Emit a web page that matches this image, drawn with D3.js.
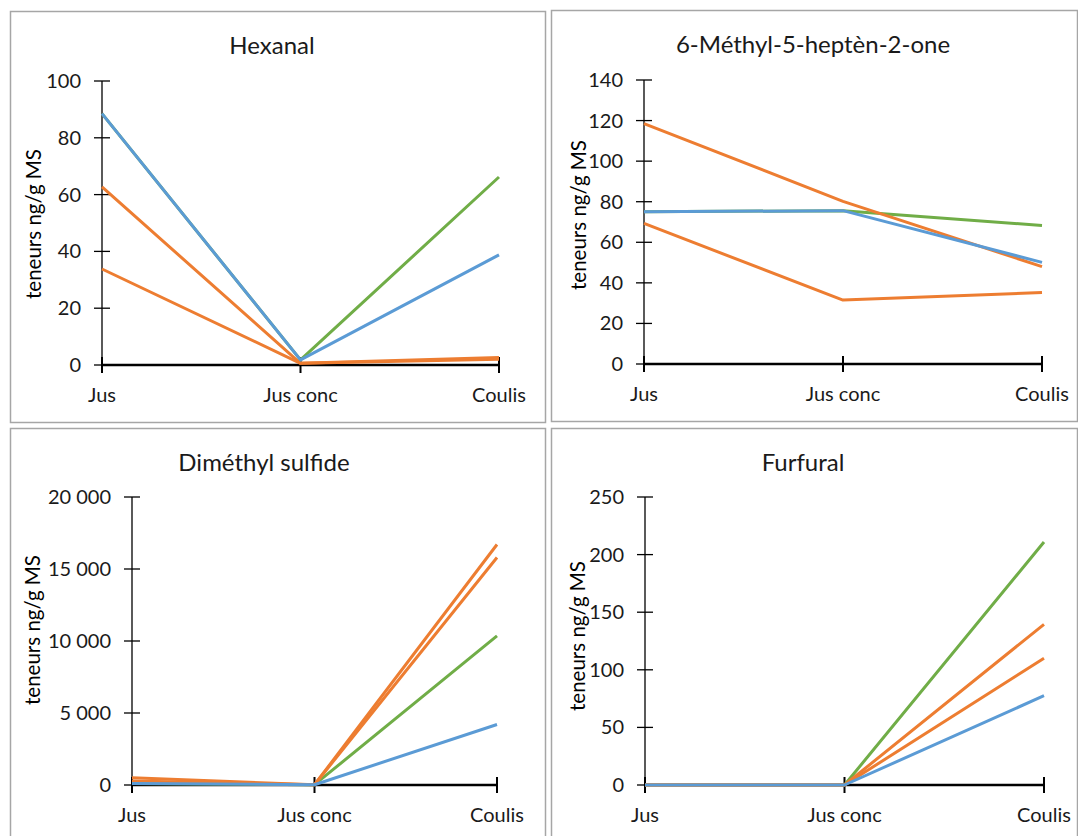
<!DOCTYPE html>
<html>
<head>
<meta charset="utf-8">
<script src="https://cdn.jsdelivr.net/npm/d3@7"></script>
<style>
  html, body { margin: 0; padding: 0; background: #ffffff; }
  svg { display: block; font-family: Lato, "Open Sans", sans-serif; }
</style>
</head>
<body>
<svg id="chart" width="1078" height="836"></svg>
<script>
// ---------- DATA ----------
const categories = ["Jus", "Jus conc", "Coulis"];

const titles = ["Hexanal", "6-Méthyl-5-heptèn-2-one", "Diméthyl sulfide", "Furfural"];
const yAxisTitle = "teneurs ng/g MS";

// series per panel: green, orangeA, orangeB, blue
const hexanalGreen   = [88.5, 1.8, 66.2];
const hexanalOrangeA = [62.7, 0.6, 2.0];
const hexanalOrangeB = [33.8, 0.6, 2.6];
const hexanalBlue    = [88.5, 1.8, 38.8];

const methylGreen   = [75.0, 75.6, 68.3];
const methylOrangeA = [118.5, 80.2, 48.0];
const methylOrangeB = [69.3, 31.5, 35.2];
const methylBlue    = [75.0, 75.6, 50.1];

const dmsGreen   = [100, 20, 10350];
const dmsOrangeA = [500, 20, 16700];
const dmsOrangeB = [280, 20, 15800];
const dmsBlue    = [100, 20, 4200];

const furfuralGreen   = [0, 0, 211];
const furfuralOrangeA = [0, 0, 139.5];
const furfuralOrangeB = [0, 0, 110];
const furfuralBlue    = [0, 0, 77.5];

const hexanalTicks  = [0, 20, 40, 60, 80, 100];
const methylTicks   = [0, 20, 40, 60, 80, 100, 120, 140];
const dmsTicks      = [0, 5000, 10000, 15000, 20000];
const furfuralTicks = [0, 50, 100, 150, 200, 250];

// ---------- STYLE / LAYOUT ----------
const seriesColours = ["#70ad47", "#ed7d31", "#ed7d31", "#5b9bd5"];
const frFormat = d3.formatLocale({decimal: ",", thousands: " ", grouping: [3], currency: ["", " €"]}).format(",d");

const panels = [
  { title: titles[0], series: [hexanalGreen, hexanalOrangeA, hexanalOrangeB, hexanalBlue], ticks: hexanalTicks,
    box: [10, 11, 545, 422], x: [102, 499], y: [365, 81], titleX: 272, titleY: 54, catY: 402, labX: 41, labY: 224 },
  { title: titles[1], series: [methylGreen, methylOrangeA, methylOrangeB, methylBlue], ticks: methylTicks,
    box: [551, 10, 1077, 421], x: [644, 1042], y: [364, 80], titleX: 813, titleY: 53, catY: 401, labX: 586, labY: 215 },
  { title: titles[2], series: [dmsGreen, dmsOrangeA, dmsOrangeB, dmsBlue], ticks: dmsTicks,
    box: [10, 428, 545, 840], x: [132, 497], y: [785, 497], titleX: 264, titleY: 471, catY: 822, labX: 40, labY: 630 },
  { title: titles[3], series: [furfuralGreen, furfuralOrangeA, furfuralOrangeB, furfuralBlue], ticks: furfuralTicks,
    box: [551, 428, 1077, 840], x: [645, 1044], y: [785, 497], titleX: 803, titleY: 471, catY: 822, labX: 585, labY: 636 }
];

const svg = d3.select("#chart");

panels.forEach(p => {
  const g = svg.append("g");
  // frame
  g.append("rect")
    .attr("x", p.box[0] + 0.5).attr("y", p.box[1] + 0.5)
    .attr("width", p.box[2] - p.box[0]).attr("height", p.box[3] - p.box[1])
    .attr("fill", "#ffffff").attr("stroke", "#a6a6a6").attr("stroke-width", 1.5);

  const x = d3.scalePoint().domain(categories).range(p.x);
  const y = d3.scaleLinear().domain([p.ticks[0], p.ticks[p.ticks.length - 1]]).range(p.y);

  // title
  g.append("text").attr("x", p.titleX).attr("y", p.titleY)
    .attr("text-anchor", "middle").attr("font-size", 24).attr("fill", "#1a1a1a").text(p.title);

  // y axis line
  g.append("line").attr("x1", x(categories[0])).attr("x2", x(categories[0]))
    .attr("y1", y(p.ticks[0])).attr("y2", y(p.ticks[p.ticks.length - 1]))
    .attr("stroke", "#000").attr("stroke-width", 1.3);
  // y ticks (cross)
  g.selectAll(".yt").data(p.ticks).enter().append("line")
    .attr("x1", x(categories[0]) - 8).attr("x2", x(categories[0]) + 8)
    .attr("y1", d => y(d)).attr("y2", d => y(d))
    .attr("stroke", "#000").attr("stroke-width", 1.3);
  g.selectAll(".yl").data(p.ticks).enter().append("text")
    .attr("x", x(categories[0]) - 21).attr("y", d => y(d)).attr("dy", "0.35em")
    .attr("text-anchor", "end").attr("font-size", 20).attr("fill", "#1a1a1a")
    .text(d => frFormat(d));

  // y axis title
  g.append("text").attr("transform", `translate(${p.labX},${p.labY}) rotate(-90)`)
    .attr("text-anchor", "middle").attr("font-size", 20.5).attr("fill", "#000").text(yAxisTitle);

  // x axis
  g.append("line").attr("x1", x(categories[0])).attr("x2", x(categories[categories.length - 1]))
    .attr("y1", y(0)).attr("y2", y(0)).attr("stroke", "#000").attr("stroke-width", 2.5);
  g.selectAll(".xt").data(categories).enter().append("line")
    .attr("x1", d => x(d)).attr("x2", d => x(d))
    .attr("y1", y(0) - 8).attr("y2", y(0) + 8)
    .attr("stroke", "#000").attr("stroke-width", 2);
  g.selectAll(".xl").data(categories).enter().append("text")
    .attr("x", d => x(d)).attr("y", p.catY)
    .attr("text-anchor", "middle").attr("font-size", 20).attr("fill", "#1a1a1a").text(d => d);

  // series
  const line = d3.line().x((d, i) => x(categories[i])).y(d => y(d));
  p.series.forEach((s, i) => {
    g.append("path").datum(s).attr("d", line)
      .attr("fill", "none").attr("stroke", seriesColours[i])
      .attr("stroke-width", 3).attr("stroke-linejoin", "round").attr("stroke-linecap", "butt");
  });
});
</script>
</body>
</html>
